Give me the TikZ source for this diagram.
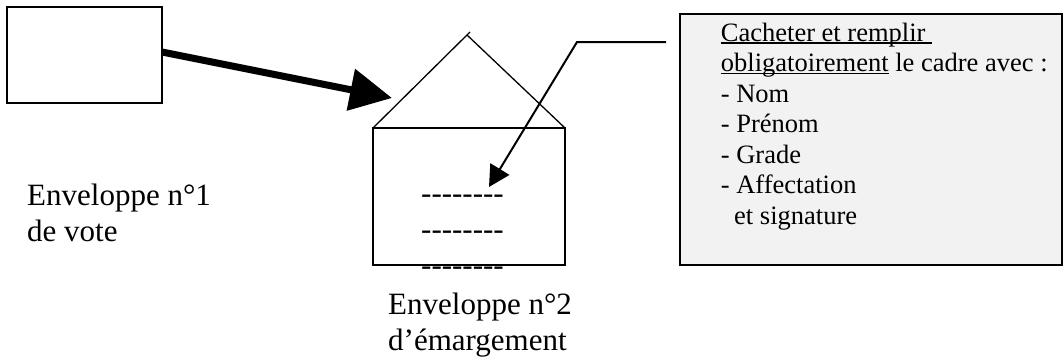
\documentclass[tikz,border=0pt]{standalone}
\usepackage{fontspec}
\setmainfont{Liberation Serif}
\usetikzlibrary{arrows.meta}
\definecolor{boxgray}{RGB}{242,242,242}
\newcommand\myul[1]{\setbox0\hbox{#1}\rlap{\rule[-2.6pt]{\wd0}{1.4pt}}\box0\relax}
\begin{document}
\begin{tikzpicture}[x=1pt,y=-1pt,
  envbox/.style={draw,line width=1.5pt,inner sep=0pt,outer sep=0pt},
  roofline/.style={line width=1.3pt},
  bigtext/.style={font=\fontsize{31}{36}\selectfont,inner sep=0pt,anchor=base west},
  smalltext/.style={font=\fontsize{26.5}{30.5}\selectfont,inner sep=0pt,anchor=base west},
  notebox/.style={draw,fill=boxgray,line width=2pt,inner sep=0pt,outer sep=0pt},
  bigarrow/.style={line width=7pt,-{Triangle[length=42pt,width=41pt]}},
  leader/.style={line width=2pt,-{Triangle[length=21pt,width=22pt]}}]
\useasboundingbox (0,0) rectangle (1064,359);

% envelope 1
\node[envbox,minimum width=155pt,minimum height=96pt] (env1) at (84.5,55) {};
\node[bigtext] (lab1) at (27,205) {\vtop{\hbox{Enveloppe n°1}\hbox{de vote}}};

% envelope 2
\node[envbox,minimum width=192pt,minimum height=137pt] (env2) at (469,196.5) {};
\coordinate (apex) at (467,35);
\coordinate (apext) at (470,32);
\draw[roofline] (env2.north west) -- (apext);
\draw[roofline] (apex) -- (env2.north east);
\node[bigtext] (dashes) at (421,203) {\vtop{\hbox{-{}-{}-{}-{}-{}-{}-{}-}\hbox{-{}-{}-{}-{}-{}-{}-{}-}\hbox{-{}-{}-{}-{}-{}-{}-{}-}}};
\node[bigtext] (lab2) at (388,314) {\vtop{\hbox{Enveloppe n°2}\hbox{d’émargement}}};

% big arrow
\coordinate (tip1) at (392,98);
\draw[bigarrow] ([yshift=3pt]env1.east) -- (tip1);

% note box
\node[notebox,minimum width=382pt,minimum height=251pt] (note) at (871,139.5) {};
\node[smalltext] (notetext) at (720.7,41) {\vtop{%
  \hbox{\myul{Cacheter et remplir\ }}
  \hbox{\myul{obligatoirement} le cadre avec :}
  \hbox{- Nom}
  \hbox{- Prénom}
  \hbox{- Grade}
  \hbox{- Affectation}
  \hbox{\hspace*{13.3pt}et signature}}};

% leader arrow
\coordinate (lead) at (666,42);
\coordinate (bend) at (577,42);
\coordinate (tip2) at (489,187);
\draw[leader] (lead) -- (bend) -- (tip2);
\end{tikzpicture}
\end{document}
